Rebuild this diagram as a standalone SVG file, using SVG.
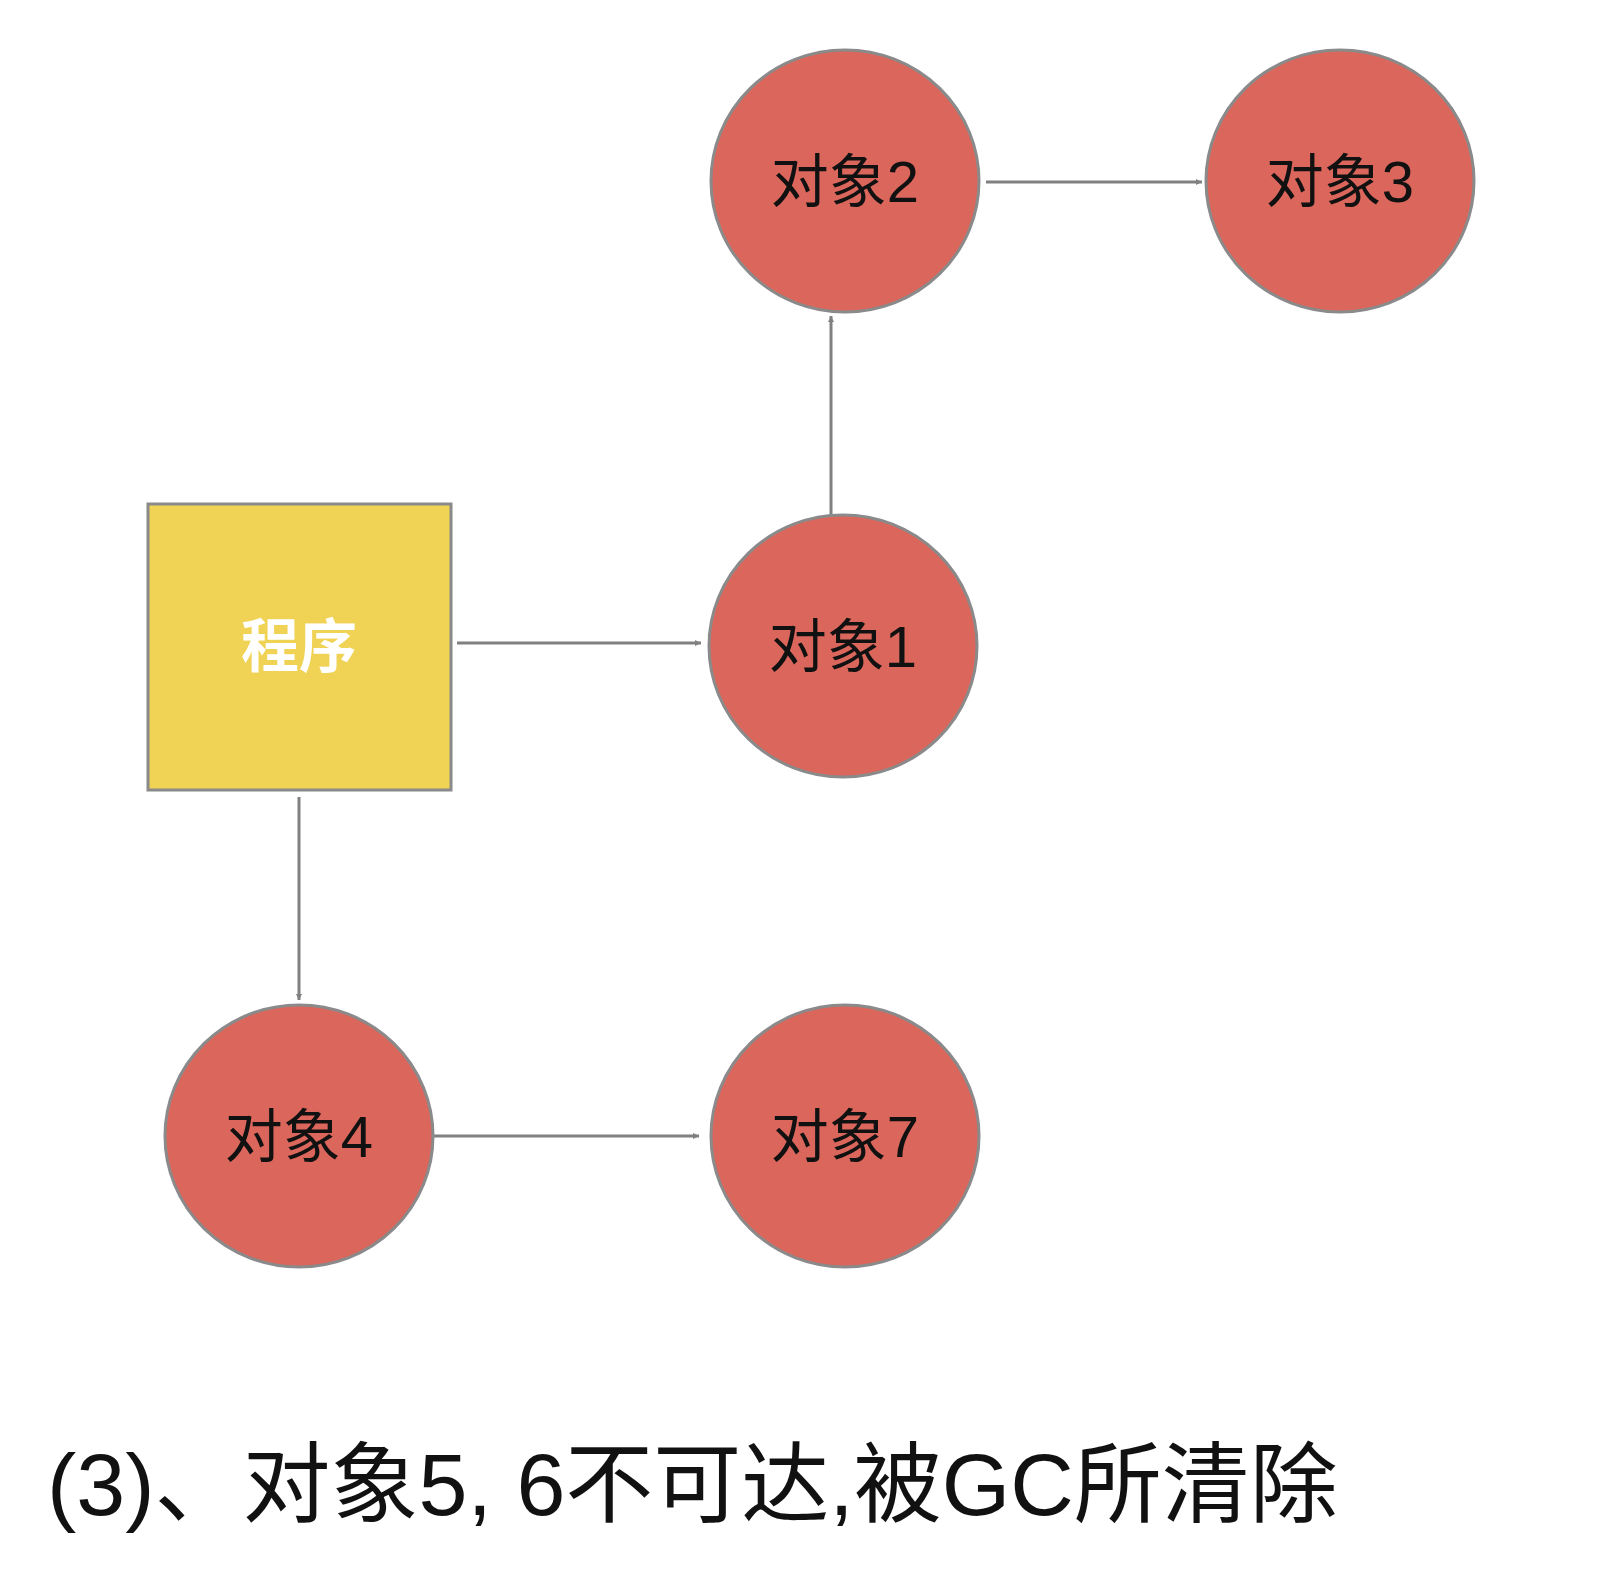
<svg xmlns="http://www.w3.org/2000/svg" width="1616" height="1588" viewBox="0 0 1616 1588">
<style>
.c{fill:#db665c;stroke:#8a8a8a;stroke-width:3}
.t{font-family:"Liberation Sans","Noto Sans CJK SC",sans-serif;font-size:58px;text-anchor:middle;fill:#111}
.e{stroke:#808080;stroke-width:3;fill:none;marker-end:url(#a)}
</style>
<defs><marker id="a" viewBox="0 0 10 10" refX="10" refY="5" markerWidth="6" markerHeight="6" orient="auto" markerUnits="userSpaceOnUse" ><path d="M0,0L10,5L0,10z" fill="#808080"/></marker></defs>
<rect width="1616" height="1588" fill="#fff"/>
<g id="connectors">
<path class="e" d="M986,182H1202" style="marker-end:url(#a)"/>
<path class="e" d="M831,515V316"/>
<path class="e" d="M457,643H701"/>
<path class="e" d="M299,797V1000"/>
<path class="e" d="M428,1136H699"/>
</g>
<g id="prog"><rect x="148" y="504" width="303" height="286" fill="#f0d254" stroke="#8a8a8a" stroke-width="3"/><text class="t" x="299" y="667" fill="#fff" style="fill:#fff;font-weight:bold">程序</text></g>
<g id="obj2"><ellipse class="c" cx="845" cy="181" rx="134" ry="131"/><text class="t" x="845" y="202">对象2</text></g>
<g id="obj3"><ellipse class="c" cx="1340" cy="181" rx="134" ry="131"/><text class="t" x="1340" y="202">对象3</text></g>
<g id="obj1"><ellipse class="c" cx="843" cy="646" rx="134" ry="131"/><text class="t" x="843" y="667">对象1</text></g>
<g id="obj4"><ellipse class="c" cx="299" cy="1136" rx="134" ry="131"/><text class="t" x="299" y="1157">对象4</text></g>
<g id="obj7"><ellipse class="c" cx="845" cy="1136" rx="134" ry="131"/><text class="t" x="845" y="1157">对象7</text></g>
<text x="47" y="1515" font-family="'Liberation Sans','Noto Sans CJK SC',sans-serif" font-size="88" fill="#111">(3)、对象5, 6不可达,被GC所清除</text>
</svg>
